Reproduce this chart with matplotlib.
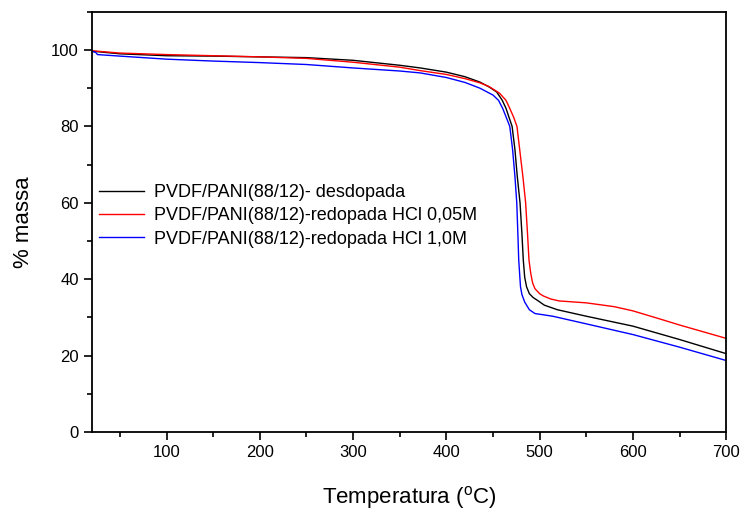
import matplotlib
matplotlib.use("Agg")
import matplotlib.pyplot as plt
from matplotlib.ticker import MultipleLocator

plt.rcParams["font.family"] = ["Liberation Sans", "DejaVu Sans"]
plt.rcParams["mathtext.fontset"] = "custom"
plt.rcParams["mathtext.rm"] = "Liberation Sans"

# temperatura (C) e % massa
temp_black = [20, 50, 100, 150, 200, 250, 300, 350, 372, 400, 420, 436, 446, 454, 460,
              464, 467, 470.5, 473.5, 476, 479, 481, 482.5, 484, 486, 489, 493, 498, 505, 519,
              550, 600, 650, 700]
mass_black = [99.7, 99.0, 98.5, 98.4, 98.2, 98.0, 97.3, 96.0, 95.3, 94.2, 93.0, 91.6, 90.3, 89.0, 86.8,
              84.7, 82.5, 80.0, 74.0, 67.0, 60.0, 52.0, 45.0, 40.5, 38.0, 36.2, 35.2, 34.4, 33.2, 32.0,
              30.3, 27.7, 24.2, 20.5]

temp_red = [20, 50, 100, 150, 200, 250, 300, 350, 372, 400, 420, 436, 446, 457, 464,
            468, 472, 475.7, 478.6, 482, 485, 487, 488.6, 490.5, 492.5, 495, 500, 504, 512,
            521, 550, 580, 600, 630, 650, 700]
mass_red = [99.8, 99.2, 98.8, 98.5, 98.2, 97.8, 96.8, 95.5, 94.6, 93.6, 92.5, 91.4, 90.4, 88.7, 86.8,
            84.7, 82.5, 80.0, 74.0, 67.0, 60.0, 52.0, 45.0, 41.5, 39.0, 37.5, 36.2, 35.6, 34.8,
            34.3, 33.8, 32.8, 31.7, 29.5, 28.0, 24.5]

temp_blue = [20, 24, 26, 50, 100, 150, 200, 250, 300, 350, 372, 400, 420, 436, 450,
             456, 460.4, 464, 468, 471, 473.5, 475.5, 476.8, 477.6, 479.5, 481, 484, 489, 495,
             514, 550, 600, 650, 700]
mass_blue = [99.6, 99.4, 98.8, 98.4, 97.6, 97.1, 96.7, 96.2, 95.3, 94.5, 94.0, 92.8, 91.5, 90.0, 88.2,
             86.8, 84.7, 82.5, 80.0, 74.0, 67.0, 60.0, 51.0, 45.0, 38.0, 36.0, 34.0, 32.0, 31.0,
             30.3, 28.3, 25.5, 22.2, 18.7]

labels = ["PVDF/PANI(88/12)- desdopada",
          "PVDF/PANI(88/12)-redopada HCl 0,05M",
          "PVDF/PANI(88/12)-redopada HCl 1,0M"]

fig = plt.figure(figsize=(7.41, 5.13), dpi=100)
ax = fig.add_axes([0.124, 0.158, 0.856, 0.819])

ax.plot(temp_black, mass_black, color="black", lw=1.0, label=labels[0])
ax.plot(temp_red, mass_red, color="red", lw=1.0, label=labels[1])
ax.plot(temp_blue, mass_blue, color="blue", lw=1.0, label=labels[2])

ax.set_xlim(20, 700)
ax.set_ylim(0, 110)
ax.xaxis.set_major_locator(MultipleLocator(100))
ax.xaxis.set_minor_locator(MultipleLocator(50))
ax.yaxis.set_major_locator(MultipleLocator(20))
ax.yaxis.set_minor_locator(MultipleLocator(10))
ax.tick_params(which="major", direction="out", length=6, width=1.2, labelsize=12)
ax.tick_params(which="minor", direction="out", length=3.5, width=1.2)
ax.tick_params(top=False, right=False)
for s in ax.spines.values():
    s.set_linewidth(1.3)

ax.set_xlabel(r"Temperatura ($\mathregular{^o}$C)", fontsize=16, labelpad=17)
ax.set_ylabel("% massa", fontsize=16, labelpad=12)

ax.legend(loc="center left", bbox_to_anchor=(0.0, 0.514), frameon=False,
          fontsize=13, handlelength=2.5, handletextpad=0.55, labelspacing=0.35,
          borderaxespad=0.0)

fig.savefig("out.png", dpi=100)
